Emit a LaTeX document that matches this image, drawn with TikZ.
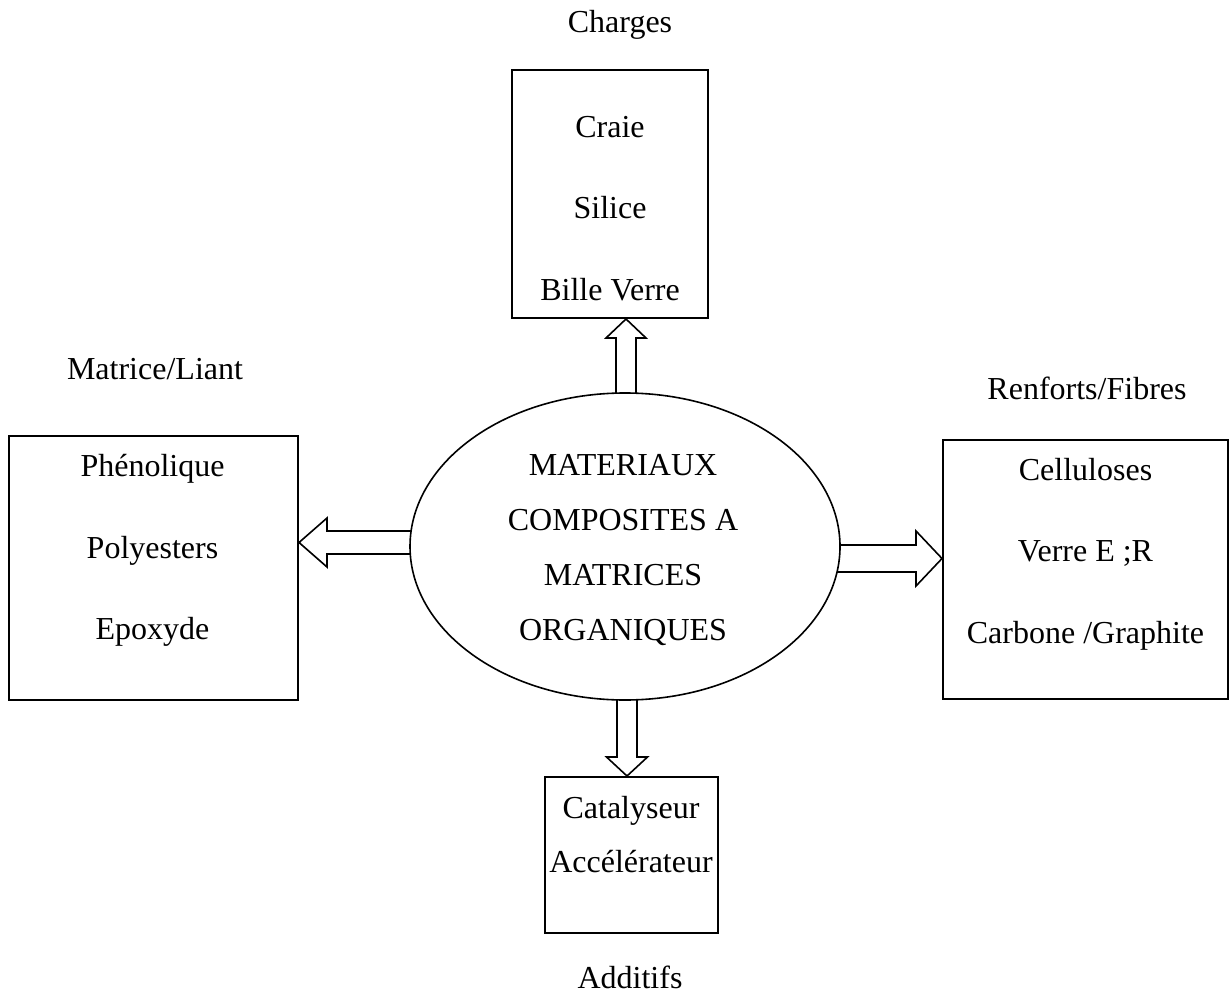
\documentclass[tikz,border=0pt]{standalone}
\usepackage{fontspec}
\setmainfont{Liberation Serif}
\usetikzlibrary{shapes.geometric,backgrounds,calc}
\begin{document}
\begin{tikzpicture}[x=0.5pt,y=-0.5pt,
  box/.style={draw=black,line width=1pt,rectangle,inner sep=0pt,fill=white},
  txt/.style={anchor=base,inner sep=0pt,font=\fontsize{16}{19}\selectfont},
  fat/.style={draw=black,line width=0.8pt,fill=white,line join=miter}]
\useasboundingbox (0,0) rectangle (1229,994);
% boxes
\node[box,minimum width=98pt,minimum height=124pt] (T) at (610,194) {};
\node[box,minimum width=144.5pt,minimum height=132pt] (L) at (153.5,568) {};
\node[box,minimum width=142.5pt,minimum height=129.5pt] (R) at (1085.5,569.5) {};
\node[box,minimum width=86.5pt,minimum height=78pt] (B) at (631.5,855) {};
\node[draw=black,line width=0.8pt,ellipse,fill=white,inner sep=0pt,minimum width=215pt,minimum height=153.5pt] (E) at (625,546.5) {};
% texts
\node[txt] (charges) at (620,33) {Charges};
\node[txt] (t1) at (610,138) {Craie};
\node[txt] (t2) at (610,219) {Silice};
\node[txt] (t3) at (610,300) {Bille Verre};
\node[txt] (matrice) at (155,379) {Matrice/Liant};
\node[txt] (l1) at (152.5,476) {Phénolique};
\node[txt] (l2) at (152.5,558) {Polyesters};
\node[txt] (l3) at (152.5,639) {Epoxyde};
\node[txt] (renforts) at (1087,399) {Renforts/Fibres};
\node[txt] (r1) at (1085.5,480) {Celluloses};
\node[txt] (r2) at (1085.5,561) {Verre E ;R};
\node[txt] (r3) at (1085.5,643) {Carbone /Graphite};
\node[txt] (e1) at (623,475) {MATERIAUX};
\node[txt] (e2) at (623,530) {COMPOSITES A};
\node[txt] (e3) at (623,585) {MATRICES};
\node[txt] (e4) at (623,640) {ORGANIQUES};
\node[txt] (b1) at (631,818) {Catalyseur};
\node[txt] (b2) at (631,872) {Accélérateur};
\node[txt] (additifs) at (630,988) {Additifs};
% arrows
\begin{pgfonlayer}{background}
\draw[fat] let \p1=(E.north), \p2=(T.south) in
  ({\x1-4.5pt},{\y1-3pt}) -- ({\x1-4.5pt},{\y2-9.5pt}) -- ({\x1-9.5pt},{\y2-9.5pt}) -- ({\x1+0.5pt},\y2)
  -- ({\x1+10.5pt},{\y2-9.5pt}) -- ({\x1+5.5pt},{\y2-9.5pt}) -- ({\x1+5.5pt},{\y1-3pt});
\draw[fat] let \p1=(E.south), \p2=(B.north) in
  ({\x1-4pt},{\y1+3pt}) -- ({\x1-4pt},{\y2+9.5pt}) -- ({\x1-9.25pt},{\y2+9.5pt}) -- ({\x1+1pt},\y2)
  -- ({\x1+11.25pt},{\y2+9.5pt}) -- ({\x1+6pt},{\y2+9.5pt}) -- ({\x1+6pt},{\y1+3pt});
\draw[fat] let \p1=(E.west), \p2=(L.east) in
  ({\x1+3pt},{\y1+7.75pt}) -- ({\x2+14pt},{\y1+7.75pt}) -- ({\x2+14pt},{\y1+14.25pt}) -- (\x2,{\y1+2pt})
  -- ({\x2+14pt},{\y1-10.25pt}) -- ({\x2+14pt},{\y1-3.75pt}) -- ({\x1+3pt},{\y1-3.75pt});
\draw[fat] let \p1=(E.east), \p2=(R.west) in
  ({\x1-3pt},{\y1+0.75pt}) -- ({\x2-13pt},{\y1+0.75pt}) -- ({\x2-13pt},{\y1+7.75pt}) -- (\x2,{\y1-6pt})
  -- ({\x2-13pt},{\y1-19.75pt}) -- ({\x2-13pt},{\y1-12.75pt}) -- ({\x1-3pt},{\y1-12.75pt});
\end{pgfonlayer}
\end{tikzpicture}
\end{document}
